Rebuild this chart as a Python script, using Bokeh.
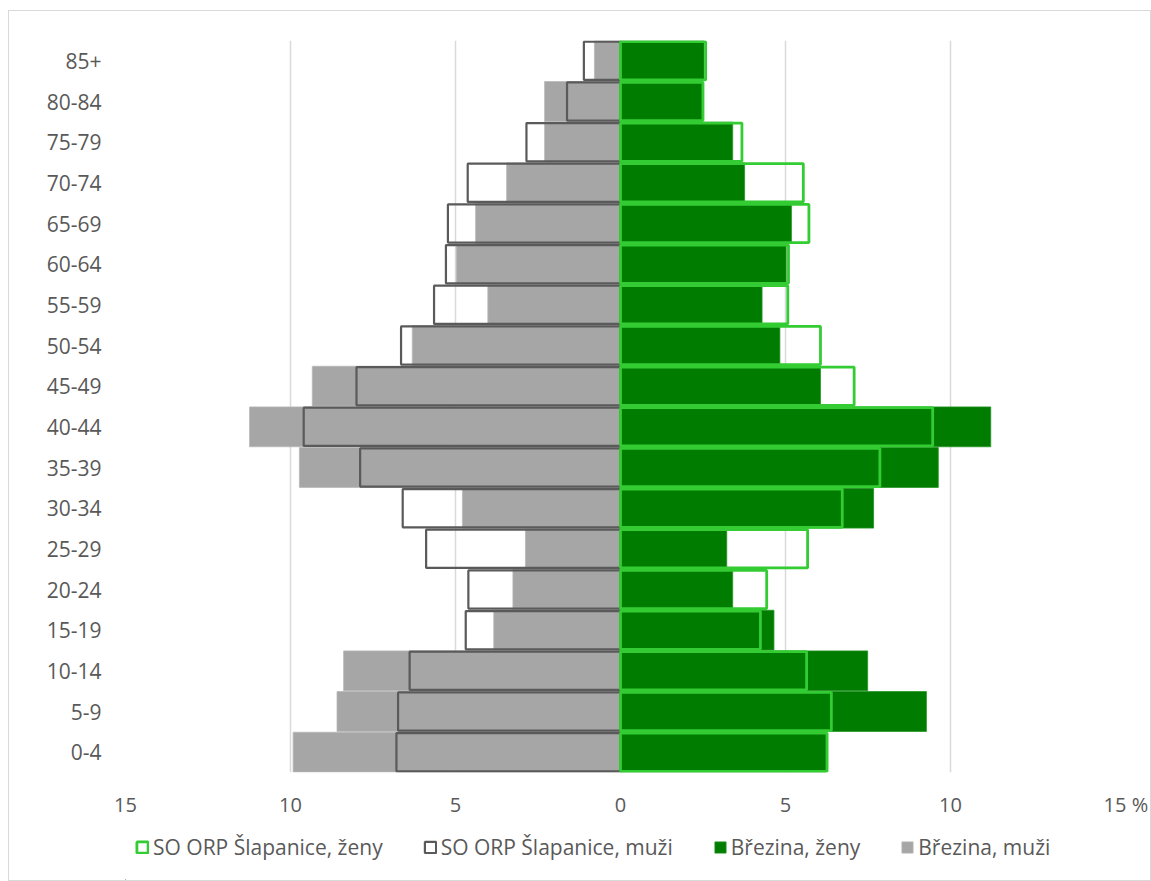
from bokeh.plotting import figure
from bokeh.layouts import column
from bokeh.models import FixedTicker, Legend, LegendItem, ColumnDataSource
from bokeh.embed import file_html
from bokeh.resources import INLINE

categories = ["0-4", "5-9", "10-14", "15-19", "20-24", "25-29", "30-34", "35-39",
              "40-44", "45-49", "50-54", "55-59", "60-64", "65-69", "70-74",
              "75-79", "80-84", "85+"]

brezina_muzi = [9.92, 8.59, 8.39, 3.84, 3.26, 2.88, 4.79, 9.73, 11.24, 9.34,
                6.31, 4.02, 4.97, 4.39, 3.45, 2.30, 2.30, 0.79]
orp_muzi = [6.79, 6.74, 6.39, 4.69, 4.61, 5.89, 6.60, 7.89, 9.60, 8.00,
            6.65, 5.65, 5.29, 5.23, 4.63, 2.85, 1.62, 1.11]
brezina_zeny = [6.23, 9.27, 7.49, 4.65, 3.40, 3.22, 7.67, 9.63, 11.22, 6.06,
                4.83, 4.29, 5.02, 5.18, 3.76, 3.40, 2.47, 2.53]
orp_zeny = [6.26, 6.39, 5.64, 4.24, 4.43, 5.67, 6.72, 7.86, 9.46, 7.08,
            6.06, 5.07, 5.09, 5.71, 5.54, 3.68, 2.50, 2.58]

x_ticks = [-15, -10, -5, 0, 5, 10, 15]
x_tick_labels = ["15", "10", "5", "0", "5", "10", "\u00a0\u00a0\u00a0\u00a015 %"]

series_names = ["SO ORP Šlapanice, ženy", "SO ORP Šlapanice, muži",
                "Březina, ženy", "Březina, muži"]

ypos = list(range(len(categories)))
zeros = [0] * len(categories)

src = ColumnDataSource(dict(
    y=ypos,
    zero=zeros,
    bm=[-v for v in brezina_muzi],
    om=[-v for v in orp_muzi],
    bz=brezina_zeny,
    oz=orp_zeny,
))

FONT = "Open Sans"
TXT = "#595959"

STY = {
    "bm": dict(fill_color="#a6a6a6", line_color="#b8b8b8", line_width=0.8),
    "bz": dict(fill_color="#007c00", line_color="#239523", line_width=0.8),
    "om": dict(fill_color=None, line_color="#5a5a5a", line_width=2.2),
    "oz": dict(fill_color=None, line_color="#33cc33", line_width=2.8),
}

BL, BR = 116, 35

p = figure(width=1141, height=817, output_backend="svg", toolbar_location=None,
           x_range=(-15, 15), y_range=(-0.5, 17.5),
           min_border_left=BL, min_border_right=BR, min_border_top=29,
           min_border_bottom=56, outline_line_color=None,
           background_fill_color="white", border_fill_color="white")

p.hbar(y="y", left="bm", right="zero", height=0.98, source=src, **STY["bm"])
p.hbar(y="y", left="zero", right="bz", height=0.98, source=src, **STY["bz"])
p.hbar(y="y", left="om", right="zero", height=0.94, source=src, **STY["om"])
p.hbar(y="y", left="zero", right="oz", height=0.94, source=src, **STY["oz"])

p.xaxis.ticker = FixedTicker(ticks=x_ticks)
p.xaxis.major_label_overrides = dict(zip(x_ticks, x_tick_labels))
p.xaxis.axis_line_color = None
p.xaxis.major_tick_line_color = None
p.xaxis.minor_tick_line_color = None
p.xaxis.major_label_standoff = 12
p.xaxis.major_label_text_font = FONT
p.xaxis.major_label_text_font_size = "20px"
p.xaxis.major_label_text_color = TXT

p.yaxis.ticker = FixedTicker(ticks=ypos)
p.yaxis.major_label_overrides = {i: c for i, c in enumerate(categories)}
p.yaxis.axis_line_color = None
p.yaxis.major_tick_line_color = None
p.yaxis.minor_tick_line_color = None
p.yaxis.major_label_standoff = 18
p.yaxis.major_label_text_font = FONT
p.yaxis.major_label_text_font_size = "21px"
p.yaxis.major_label_text_color = TXT

p.xgrid.ticker = FixedTicker(ticks=x_ticks)
p.xgrid.grid_line_color = "#d9d9d9"
p.xgrid.grid_line_width = 1.5
p.ygrid.grid_line_color = None

# legend strip (proxy bars sit outside the visible ranges; only their styles show in the legend)
pl = figure(width=1141, height=52, output_backend="svg", toolbar_location=None,
            x_range=(0, 1), y_range=(0, 1), x_axis_location=None,
            y_axis_location=None, min_border_left=BL, min_border_right=BR,
            min_border_top=0, min_border_bottom=0, outline_line_color=None,
            background_fill_color="white", border_fill_color="white")
pl.grid.visible = False
proxies = [pl.hbar(y=[-10], left=[-10], right=[-9], height=1, **STY[k])
           for k in ["oz", "om", "bz", "bm"]]
legend = Legend(items=[LegendItem(label=n, renderers=[r])
                       for n, r in zip(series_names, proxies)],
                orientation="horizontal", location=(10, 19),
                border_line_color=None, background_fill_alpha=0,
                label_text_font=FONT, label_text_font_size="21px",
                label_text_color=TXT, glyph_width=14, glyph_height=14,
                label_standoff=4, spacing=40, margin=0, padding=0)
pl.add_layout(legend)

layout = column(p, pl, spacing=0, margin=(10, 0, 0, 8),
                styles={"border": "1px solid #d9d9d9"})

open("out.html", "w").write(file_html(layout, INLINE))
